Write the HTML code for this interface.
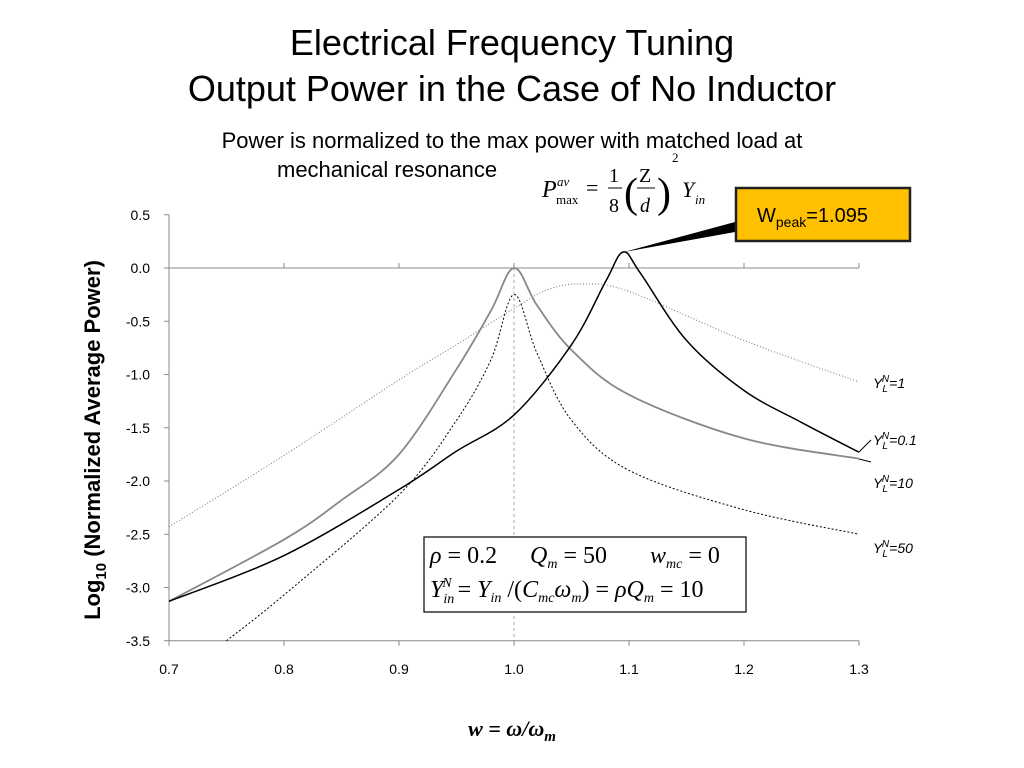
<!DOCTYPE html>
<html><head><meta charset="utf-8">
<style>
body{margin:0;background:#fff;}
svg{display:block;font-family:"Liberation Sans",sans-serif;}
</style></head>
<body>
<svg id="svg" width="1024" height="768" viewBox="0 0 1024 768">
<text x="512" y="55" text-anchor="middle" font-size="36">Electrical Frequency Tuning</text>
<text x="512" y="101" text-anchor="middle" font-size="36">Output Power in the Case of No Inductor</text>
<text x="512" y="148" text-anchor="middle" font-size="22">Power is normalized to the max power with matched load at</text>
<text x="277" y="177" font-size="22">mechanical resonance</text>
<g font-family="Liberation Serif,serif">
<text x="542" y="197" font-size="24" font-style="italic">P</text>
<text x="557" y="186" font-size="13" font-style="italic">av</text>
<text x="556" y="204" font-size="13">max</text>
<text x="586" y="195" font-size="22">=</text>
<text x="609" y="182" font-size="20">1</text><line x1="608" y1="188" x2="622" y2="188" stroke="#000"/><text x="609" y="212" font-size="20">8</text>
<text x="624" y="207" font-size="42">(</text>
<text x="639" y="182" font-size="20">Z</text><line x1="637" y1="188" x2="655" y2="188" stroke="#000"/><text x="640" y="212" font-size="20" font-style="italic">d</text>
<text x="657" y="207" font-size="42">)</text>
<text x="672" y="162" font-size="13">2</text>
<text x="682" y="197" font-size="22" font-style="italic">Y</text>
<text x="695" y="204" font-size="13" font-style="italic">in</text>
</g>
<g id="axes"></g>
<g id="plot"></g>
<text transform="translate(100,440) rotate(-90)" text-anchor="middle" font-size="22" font-weight="bold">Log<tspan font-size="15" dy="6">10</tspan><tspan dy="-6"> (Normalized Average Power)</tspan></text>
<text x="512" y="736" text-anchor="middle" font-family="Liberation Serif,serif" font-size="22" font-weight="bold" font-style="italic">w = ω/ω<tspan font-size="15" dy="5">m</tspan></text>
<g>
<polygon points="735,222 624,252 735,232" fill="#000"/>
<rect x="736" y="188" width="174" height="53" fill="#FFC000" stroke="#222" stroke-width="2.5"/>
<text x="757" y="222" font-size="20">W<tspan font-size="14" dy="5">peak</tspan><tspan dy="-5">=1.095</tspan></text>
</g>
<g font-family="Liberation Serif,serif" font-size="24">
<rect x="424" y="537" width="322" height="75" fill="#fff" stroke="#000" stroke-width="1.2"/>
<text x="430" y="563" font-style="italic">ρ<tspan font-style="normal"> = 0.2</tspan></text>
<text x="530" y="563" font-style="italic">Q<tspan font-size="14" dy="5">m</tspan><tspan dy="-5" font-style="normal"> = 50</tspan></text>
<text x="650" y="563" font-style="italic">w<tspan font-size="14" dy="5">mc</tspan><tspan dy="-5" font-style="normal"> = 0</tspan></text>
<text x="430" y="597" font-style="italic">Y<tspan font-size="14" dy="6">in</tspan><tspan font-size="14" dx="-12" dy="-16">N</tspan><tspan dy="10" font-style="normal"> = </tspan>Y<tspan font-size="14" dy="5">in</tspan><tspan dy="-5" font-style="normal"> /(</tspan>C<tspan font-size="14" dy="5">mc</tspan><tspan dy="-5">ω</tspan><tspan font-size="14" dy="5">m</tspan><tspan dy="-5" font-style="normal">) = </tspan>ρQ<tspan font-size="14" dy="5">m</tspan><tspan dy="-5" font-style="normal"> = 10</tspan></text>
</g>
<g id="labels"></g>
</svg>
<script>
const xTicks=[0.7,0.8,0.9,1.0,1.1,1.2,1.3];
const yTicks=[0.5,0.0,-0.5,-1.0,-1.5,-2.0,-2.5,-3.0,-3.5];
const xs10=[0.7,0.8,0.85,0.9,0.95,0.98,1.0,1.02,1.05,1.1,1.2,1.3];
const ys10=[-3.13,-2.55,-2.18,-1.75,-0.95,-0.4,0.0,-0.35,-0.77,-1.19,-1.6,-1.79];
const xs01=[0.7,0.8,0.9,0.95,1.0,1.05,1.08,1.095,1.11,1.15,1.2,1.25,1.3];
const ys01=[-3.13,-2.7,-2.08,-1.72,-1.38,-0.72,-0.12,0.15,-0.05,-0.68,-1.15,-1.45,-1.73];
const xs50=[0.75,0.8,0.9,0.95,0.98,1.0,1.02,1.05,1.1,1.2,1.3];
const ys50=[-3.5,-3.07,-2.13,-1.43,-0.86,-0.25,-0.8,-1.43,-1.9,-2.27,-2.5];
const xs1=[0.7,0.8,0.9,0.95,1.0,1.03,1.06,1.1,1.2,1.3];
const ys1=[-2.43,-1.76,-1.05,-0.72,-0.38,-0.2,-0.15,-0.22,-0.68,-1.07];
const seriesLabels=["1","0.1","10","50"];
const NS="http://www.w3.org/2000/svg";
const X=v=>169+(v-0.7)/0.6*690, Y=v=>268-v*106.5;
const axes=document.getElementById('axes'),plot=document.getElementById('plot'),lab=document.getElementById('labels');
function mk(tag,at,p){const e=document.createElementNS(NS,tag);for(const k in at)e.setAttribute(k,at[k]);p.appendChild(e);return e;}
let e=mk('line',{x1:169,y1:Y(0.5),x2:169,y2:Y(-3.5),stroke:'#888'},axes);

e=mk('line',{x1:169,y1:Y(0),x2:859,y2:Y(0),stroke:'#888'},axes);

e=mk('line',{x1:169,y1:Y(-3.5),x2:859,y2:Y(-3.5),stroke:'#888'},axes);

e=mk('line',{x1:X(1),y1:Y(0),x2:X(1),y2:Y(-3.5),stroke:'#aaa','stroke-dasharray':'3,3'},axes);

yTicks.forEach(v=>{mk('line',{x1:164,y1:Y(v),x2:169,y2:Y(v),stroke:'#888'},axes);
const t=mk('text',{x:150,y:Y(v)+5,'text-anchor':'end','font-size':14},axes);t.textContent=v.toFixed(1);
});
xTicks.forEach(v=>{mk('line',{x1:X(v),y1:Y(0),x2:X(v),y2:Y(0)-5,stroke:'#888'},axes);
mk('line',{x1:X(v),y1:Y(-3.5),x2:X(v),y2:Y(-3.5)+5,stroke:'#888'},axes);
const t=mk('text',{x:X(v),y:674,'text-anchor':'middle','font-size':14},axes);t.textContent=v.toFixed(1);
});
function path(xs,ys){const p=xs.map((x,i)=>[X(x),Y(ys[i])]);let d='M'+p[0];for(let i=0;i<p.length-1;i++){const a=p[i-1]||p[i],b=p[i],c=p[i+1],n=p[i+2]||c;
d+=` C${b[0]+(c[0]-a[0])/6},${b[1]+(c[1]-a[1])/6} ${c[0]-(n[0]-b[0])/6},${c[1]-(n[1]-b[1])/6} ${c[0]},${c[1]}`;}return d;}
function series(xs,ys,st,name){const p=mk('path',Object.assign({d:path(xs,ys),fill:'none'},st),plot);

}
series(xs1,ys1,{stroke:'#777','stroke-width':1,'stroke-dasharray':'1,2'},'series-yl-1');
series(xs50,ys50,{stroke:'#000','stroke-width':1,'stroke-dasharray':'2,2'},'series-yl-50');
series(xs10,ys10,{stroke:'#888','stroke-width':1.8},'series-yl-10');
series(xs01,ys01,{stroke:'#000','stroke-width':1.5},'series-yl-0.1');
const ly=[383,440,483,548];
ly.forEach((y,i)=>{const t=mk('text',{x:873,y:y+5,'font-size':14,'font-style':'italic'},lab);
t.innerHTML='Y<tspan font-size="10" dy="4">L</tspan><tspan font-size="10" dx="-6" dy="-10">N</tspan><tspan dy="6">='+seriesLabels[i]+'</tspan>';
});
mk('line',{x1:859,y1:452,x2:871,y2:440,stroke:'#000'},lab);
mk('line',{x1:859,y1:459,x2:871,y2:462,stroke:'#000'},lab);
</script>
</body></html>
